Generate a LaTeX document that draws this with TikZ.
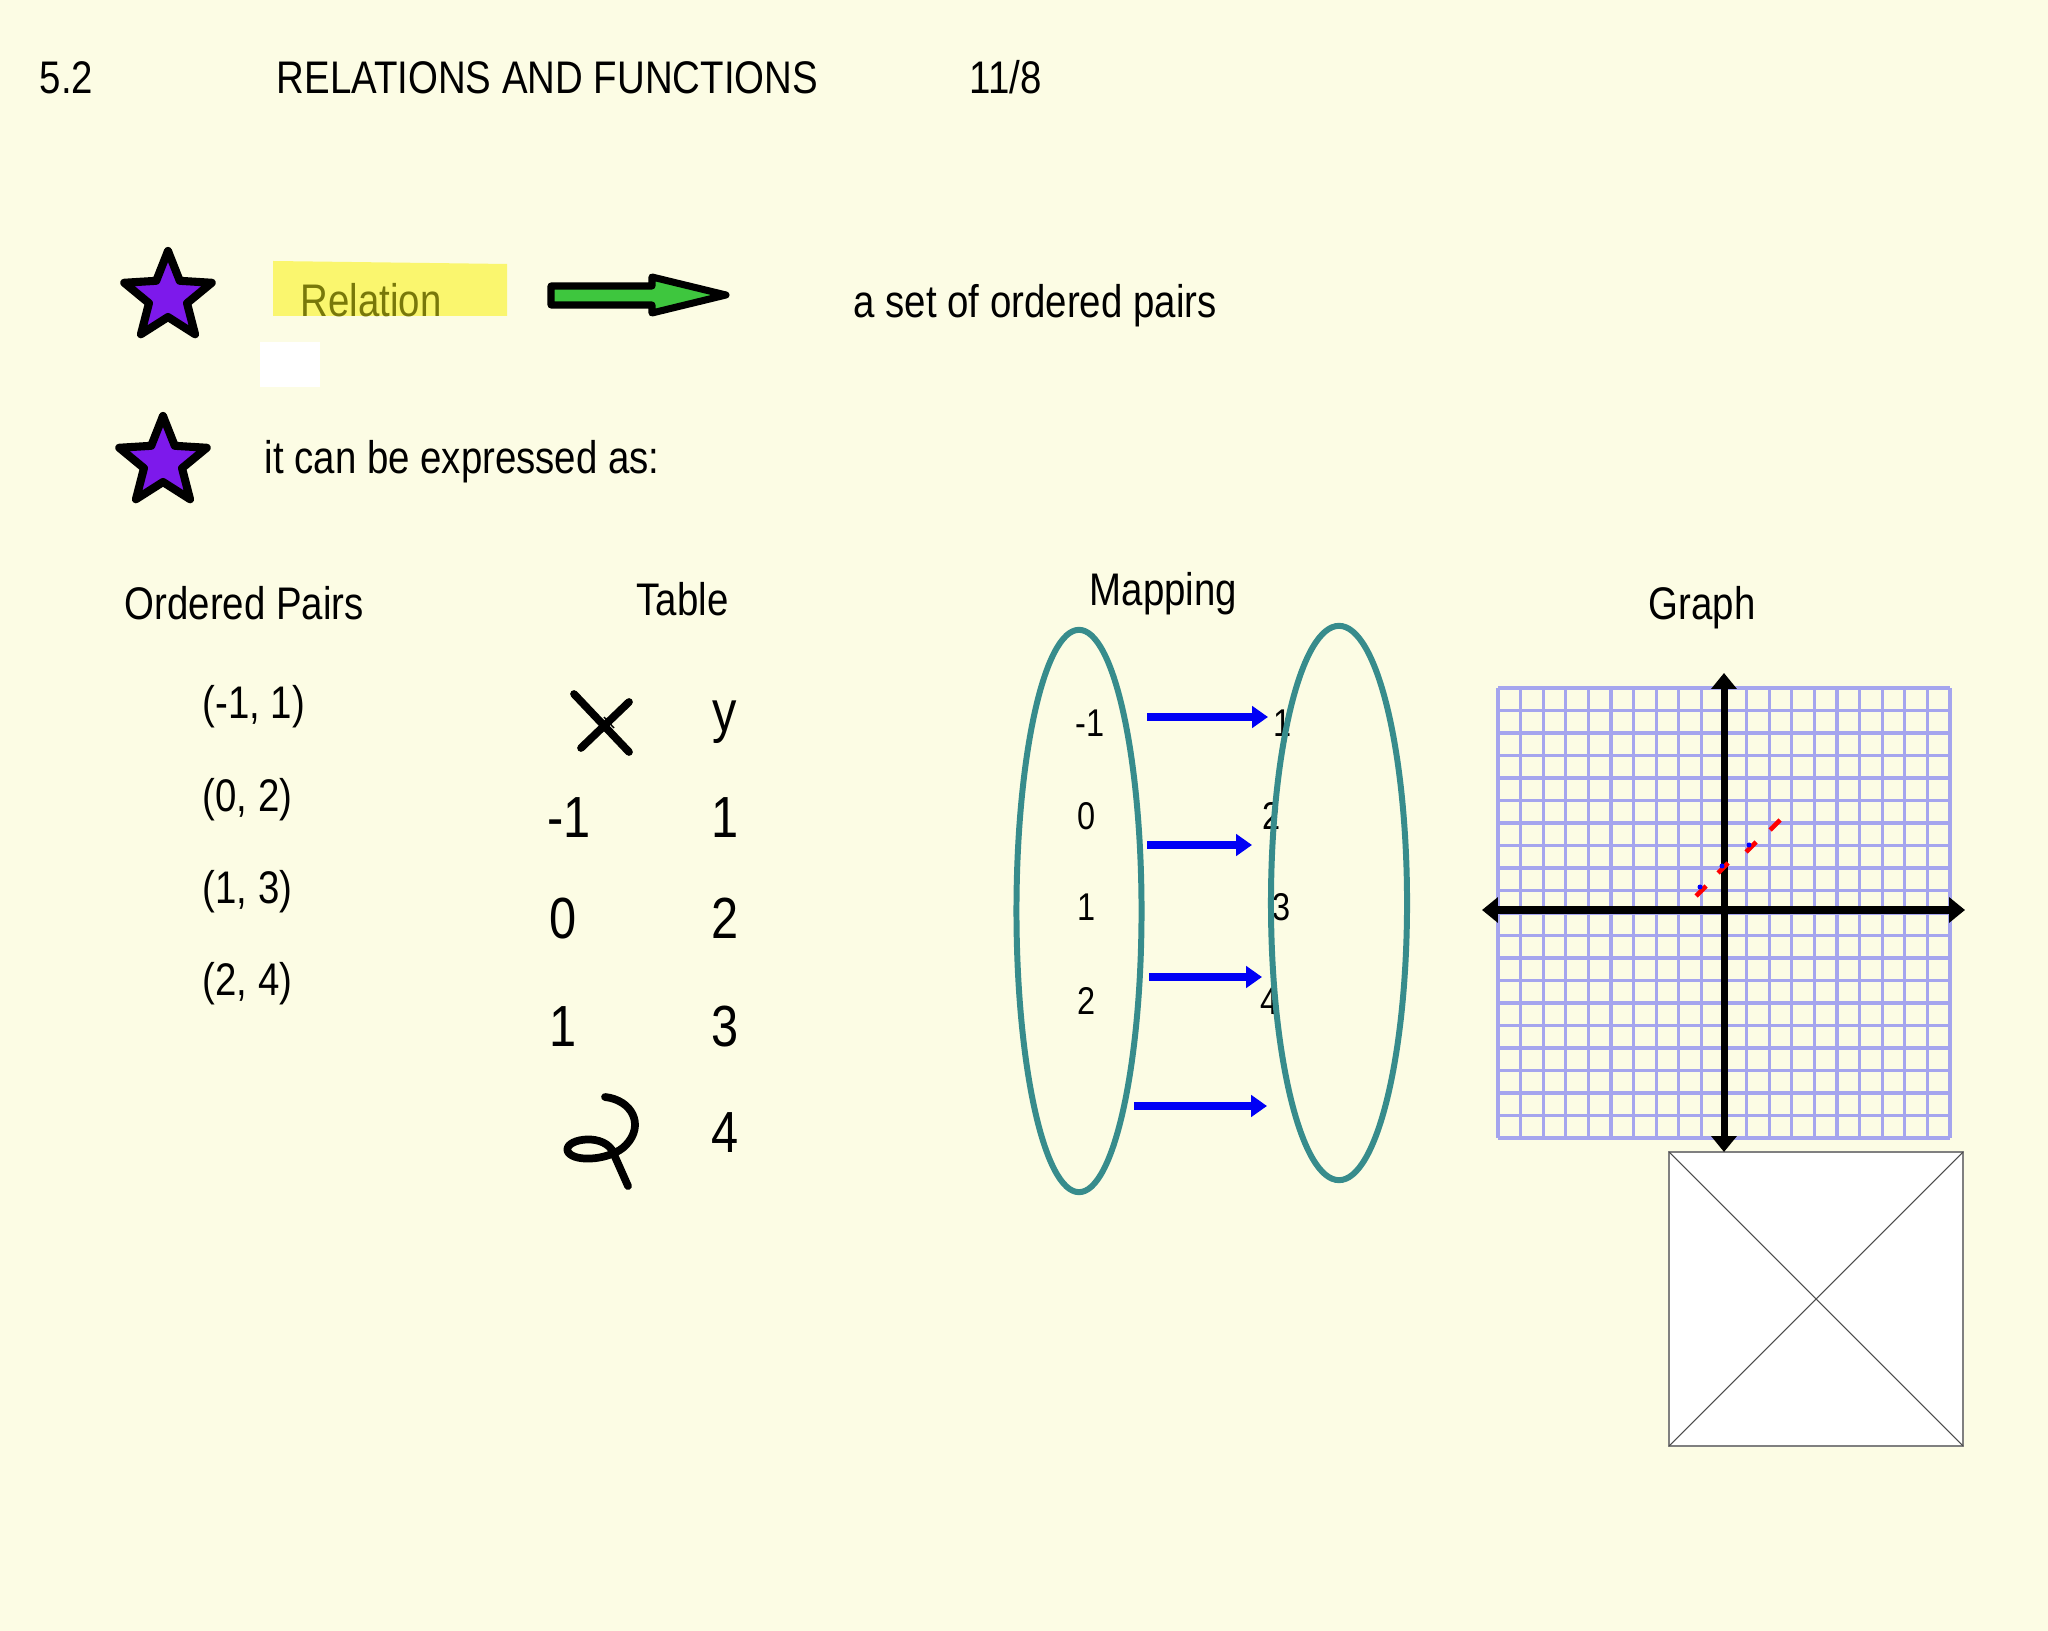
\documentclass[tikz,border=0pt]{standalone}
\usepackage{xcolor}
\usepackage{tikz}
\usetikzlibrary{shapes.geometric,arrows.meta,positioning}
\usepackage{fontspec}
\setmainfont{Liberation Sans}[FakeStretch=0.84]
\definecolor{paperyellow}{RGB}{252,252,228}
\definecolor{starpurple}{RGB}{125,25,235}
\definecolor{arrowgreen}{RGB}{62,198,62}
\definecolor{markyellow}{RGB}{250,246,110}
\definecolor{olivetext}{RGB}{120,120,10}
\definecolor{mapteal}{RGB}{55,140,140}
\definecolor{mapblue}{RGB}{0,0,245}
\definecolor{gridlilac}{RGB}{165,165,238}

\begin{document}
\begin{tikzpicture}[x=0.01cm, y=-0.01cm,
    lbl/.style={anchor=base west, inner sep=0pt, font=\fontsize{13}{15}\selectfont},
    bignum/.style={anchor=base, inner sep=0pt, font=\fontsize{16.5}{19}\selectfont},
    mapnum/.style={anchor=base west, inner sep=0pt, font=\fontsize{11}{13}\selectfont},
    starmark/.style={star, star points=5, star point ratio=2.3, minimum size=0.92cm, inner sep=0pt, draw=black, line width=2.3pt, line join=round, fill=starpurple},
    mapring/.style={ellipse, draw=mapteal, line width=1.7pt, inner sep=0pt},
    maparrow/.style={mapblue, line width=2pt, -{Triangle[length=4.5pt,width=6pt]}},
    ink/.style={line width=2.2pt, line cap=round, line join=round},
    gridline/.style={gridlilac, line width=0.9pt},
    axisline/.style={line width=2pt, {Triangle[length=4.5pt,width=7pt]}-{Triangle[length=4.5pt,width=7pt]}}
]
% page
\fill[paperyellow] (0,0) rectangle (2048,1631);
\useasboundingbox (0,0) rectangle (2048,1631);

% header
\node[lbl] (secnum) at (39,94) {5.2};
\node[lbl] (title) at (276,94) {RELATIONS AND FUNCTIONS};
\node[lbl] (date) at (969,94) {11/8};

% definition
\node[starmark] (star1) at (168,297) {};
\fill[markyellow] (273,261) -- (507,264) -- (507,316) -- (273,316) -- cycle;
\node[lbl, text=olivetext] (rel) at (300,317) {Relation};
\draw[black, line width=2pt, line join=round, fill=arrowgreen] (551,286) -- (652,286) -- (652,277) -- (726,295) -- (652,313) -- (652,305) -- (551,305) -- cycle;
\node[lbl] (def) at (853,318) {a set of ordered pairs};
\fill[white] (260,342) rectangle (320,387);

\node[starmark] (star2) at (163,462) {};
\node[lbl] (expr) at (264,474) {it can be expressed as:};

% headings
\node[lbl] (hpairs) at (124,620) {Ordered Pairs};
\node[lbl] (htable) at (636,616) {Table};
\node[lbl] (hmap) at (1089,606) {Mapping};
\node[lbl] (hgraph) at (1648,620) {Graph};

% ordered pairs
\node[lbl] (pair1) at (202,719) {(-1, 1)};
\node[lbl] (pair2) at (202,811) {(0, 2)};
\node[lbl] (pair3) at (202,903) {(1, 3)};
\node[lbl] (pair4) at (202,995) {(2, 4)};

% table
\draw[ink] (574,694) -- (629,752);
\draw[ink] (629,702) -- (581,748);
\draw[line width=0.4pt] (604,717) -- (614,728) (614,717) -- (604,728);
\node[bignum] (ty) at (725,732) {y};
\node[bignum, anchor=base west] (tx1) at (547,838) {-1};
\node[bignum, anchor=base west] (tx2) at (549,939) {0};
\node[bignum, anchor=base west] (tx3) at (549,1046) {1};
\node[bignum] (ty1) at (725,838) {1};
\node[bignum] (ty2) at (725,939) {2};
\node[bignum] (ty3) at (725,1046) {3};
\node[bignum] (ty4) at (725,1152) {4};
\draw[ink] (605,1097) .. controls (632,1100) and (645,1125) .. (626,1145) .. controls (612,1160) and (575,1163) .. (568,1152) .. controls (562,1140) and (600,1132) .. (612,1150) -- (628,1186);

% mapping
\node[mapnum] (d1) at (1075,737) {-1};
\node[mapnum] (d2) at (1077,830) {0};
\node[mapnum] (d3) at (1077,921) {1};
\node[mapnum] (d4) at (1077,1014) {2};
\node[mapnum] (r1) at (1273,737) {1};
\node[mapnum] (r2) at (1262,830) {2};
\node[mapnum] (r3) at (1272,921) {3};
\node[mapnum] (r4) at (1260,1014) {4};
\node[mapring, minimum width=1.25cm, minimum height=5.62cm] (dom) at (1079,911) {};
\node[mapring, minimum width=1.36cm, minimum height=5.54cm] (rng) at (1339,903) {};
\coordinate (a1s) at (1147,717); \coordinate (a1e) at (1268,717);
\coordinate (a2s) at (1147,845); \coordinate (a2e) at (1252,845);
\coordinate (a3s) at (1149,977); \coordinate (a3e) at (1262,977);
\coordinate (a4s) at (1134,1106); \coordinate (a4e) at (1267,1106);
\draw[maparrow] (a1s) -- (a1e);
\draw[maparrow] (a2s) -- (a2e);
\draw[maparrow] (a3s) -- (a3e);
\draw[maparrow] (a4s) -- (a4e);

% graph
\draw[gray, line width=0.5pt, fill=white] (1669,1152) rectangle (1963,1446);
\draw[gray!60!black, line width=0.3pt] (1669,1152) -- (1963,1446) (1963,1152) -- (1669,1446);
\foreach \i in {0,...,20} {
  \draw[gridline] ({1498+22.6*\i},688) -- ({1498+22.6*\i},1138);
  \draw[gridline] (1498,{688+22.5*\i}) -- (1950,{688+22.5*\i});
}
\coordinate (xl) at (1482,910); \coordinate (xr) at (1965,910);
\coordinate (yt) at (1724,673); \coordinate (yb) at (1724,1152);
\draw[axisline] (xl) -- (xr);
\draw[axisline] (yt) -- (yb);
\foreach \px/\py in {1701/891, 1723/868, 1751/847, 1775/825} {
  \draw[red, line width=1.3pt] ({\px-5},{\py+5}) -- ({\px+5},{\py-5});
}
\fill[blue] (1700,887) circle (2.5);
\fill[blue] (1722,866) circle (2.5);
\fill[blue] (1749,845) circle (2.5);
\end{tikzpicture}
\end{document}
